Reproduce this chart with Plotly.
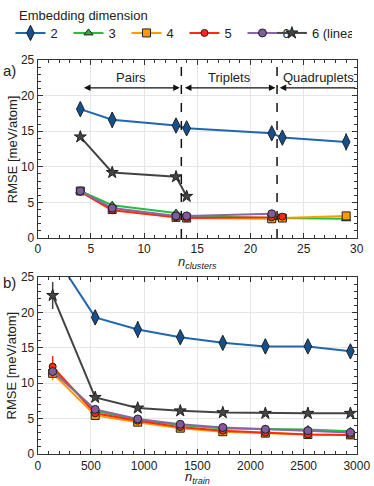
import plotly.graph_objects as go

# panel a: RMSE vs number of clusters
a_x = [4, 7, 13, 14, 22, 23, 29]
a_blue = [18.1, 16.6, 15.8, 15.4, 14.7, 14.1, 13.5]
a_blue_err = [1.0, 1.1, 0.9, 0.9, 0.9, 0.9, 1.2]
a_green = [6.6, 4.6, 3.5, 3.1, 2.8, 2.8, 2.7]
a_orange = [6.6, 4.0, 2.9, 2.8, 2.7, 2.8, 3.1]
a_red = [6.5, 3.9, 2.9, 2.8, 2.9, 3.0, None]
a_purple = [6.6, 4.2, 3.1, 3.1, 3.4, None, None]
a_star = [14.2, 9.2, 8.6, 5.85, None, None, None]

# panel b: RMSE vs training set size
b_x = [140, 540, 940, 1340, 1740, 2140, 2540, 2940]
b_blue = [28.5, 19.3, 17.6, 16.5, 15.7, 15.2, 15.2, 14.5]
b_blue_err = [1.2, 1.0, 1.2, 0.8, 0.7, 1.0, 0.9, 0.7]
b_green = [12.0, 6.1, 4.8, 4.1, 3.6, 3.5, 3.45, 3.2]
b_orange = [11.4, 5.45, 4.5, 3.65, 3.15, 2.95, 2.75, 2.7]
b_red = [12.35, 5.75, 4.7, 3.8, 3.3, 3.0, 2.75, 2.7]
b_red_err = [1.5, 0.2, 0.2, 0.15, 0.15, 0.15, 0.15, 0.15]
b_orange_err = [1.0, 0.2, 0.2, 0.15, 0.15, 0.15, 0.15, 0.15]
b_purple = [11.65, 6.3, 4.95, 4.2, 3.75, 3.5, 3.3, 3.05]
b_star = [22.4, 8.0, 6.5, 6.1, 5.85, 5.75, 5.75, 5.75]
b_star_err = [1.9, 0.2, 0.1, 0.1, 0.1, 0.1, 0.1, 0.1]

series = [
    # name, colour, marker fill, symbol, size, legend
    ("2", "#2166b0", "#14508e", "diamond-tall", 11, "legend"),
    ("3", "#22c040", "#22b040", "triangle-up", 8, "legend"),
    ("4", "#ff9a00", "#ff9a00", "square", 8, "legend"),
    ("5", "#ff2a10", "#ff2a10", "circle", 7, "legend"),
    ("6", "#8a66a8", "#7e5c9e", "circle", 8, "legend"),
    ("6 (linear)", "#444444", "#444444", "star", 9, "legend2"),
]

a_vals = [a_blue, a_green, a_orange, a_red, a_purple, a_star]
a_errs = [a_blue_err, [0.2] * 7, [0.2] * 7, [0.2] * 7, [0.2] * 7, [0.2] * 7]
b_vals = [b_blue, b_green, b_orange, b_red, b_purple, b_star]
b_errs = [b_blue_err, [0.2] * 8, b_orange_err, b_red_err, [0.2] * 8, b_star_err]

fig = go.Figure()

for i, (name, col, fill, sym, size, leg) in enumerate(series):
    for xs, ys, errs, xa, ya, show in [
        (a_x, a_vals[i], a_errs[i], "x", "y", True),
        (b_x, b_vals[i], b_errs[i], "x2", "y2", False),
    ]:
        fig.add_trace(go.Scatter(
            x=xs, y=ys, name=name, legendgroup=name, showlegend=show, legend=leg,
            xaxis=xa, yaxis=ya, mode="lines+markers",
            line=dict(color=col, width=2),
            marker=dict(symbol=sym, size=size, color=fill,
                        line=dict(color="#222222", width=1)),
            error_y=dict(type="data", array=errs, color=col,
                         thickness=1.5, width=0),
            cliponaxis=True,
        ))

font = "Liberation Sans, Arial, sans-serif"
axis_common = dict(
    showline=True, linecolor="#333333", linewidth=1.2, mirror="allticks",
    ticks="inside", ticklen=5, tickcolor="#333333",
    showgrid=True, gridcolor="#e6e6e6", zeroline=False, automargin=False,
    tickfont=dict(size=12, color="#222222"),
)
minor = dict(ticks="inside", ticklen=3, tickcolor="#333333", showgrid=False)
legend_common = dict(orientation="h", y=0.963, yanchor="top",
                     font=dict(size=13), itemwidth=30, bgcolor="rgba(0,0,0,0)")

fig.update_layout(
    width=374, height=486,
    margin=dict(l=0, r=0, t=0, b=0),
    paper_bgcolor="white", plot_bgcolor="white",
    font=dict(family=font, color="#222222"),
    showlegend=True,
    legend=dict(x=0.028, xanchor="left", entrywidth=13, **legend_common),
    legend2=dict(x=0.727, xanchor="left", entrywidth=35, **legend_common),
    xaxis=dict(domain=[0.101, 0.954], anchor="y", range=[0, 30], dtick=5,
               minor=dict(dtick=1, **minor), **axis_common),
    yaxis=dict(domain=[0.5103, 0.8765], anchor="x", range=[0, 25], dtick=5,
               minor=dict(dtick=1, **minor), **axis_common),
    xaxis2=dict(domain=[0.101, 0.954], anchor="y2", range=[0, 3000], dtick=500,
                minor=dict(dtick=100, **minor), **axis_common),
    yaxis2=dict(domain=[0.0658, 0.43], anchor="x2", range=[0, 25], dtick=5,
                minor=dict(dtick=1, **minor), **axis_common),
)

txt = dict(showarrow=False, xref="paper", yref="paper", font=dict(size=13, color="#222222"))
fig.add_annotation(x=0.045, y=0.988, text="Embedding dimension",
                   xanchor="left", yanchor="top", **txt)
# axis titles
fig.add_annotation(x=0.527, y=0.459, text="<i>n</i><sub><i>clusters</i></sub>",
                   xanchor="center", yanchor="middle", **txt)
fig.add_annotation(x=0.527, y=-0.004, text="<i>n</i><sub><i>train</i></sub>",
                   xanchor="center", yanchor="bottom", **txt)
fig.add_annotation(x=0.032, y=0.693, text="RMSE [meV/atom]", textangle=-90,
                   xanchor="center", yanchor="middle", **txt)
fig.add_annotation(x=0.032, y=0.248, text="RMSE [meV/atom]", textangle=-90,
                   xanchor="center", yanchor="middle", **txt)

# dashed separators between cluster types
for xv in [13.5, 22.5]:
    fig.add_shape(type="line", xref="x", yref="y domain", x0=xv, x1=xv, y0=0, y1=1,
                  line=dict(color="#111111", width=1.5, dash="dash"))

# double-headed arrows with group labels
arrow_y = 21.1
groups = [("Pairs", 4.2, 13.35, "end+start"),
          ("Triplets", 13.7, 22.35, "end+start"),
          ("Quadruplets", 30.0, 22.75, "end")]
for label, x0, x1, side in groups:
    fig.add_annotation(x=x1, y=arrow_y, ax=x0, ay=arrow_y, xref="x", yref="y",
                       axref="x", ayref="y", text="", showarrow=True,
                       arrowhead=2, arrowsize=1, arrowwidth=1.3,
                       arrowcolor="#111111", arrowside=side)
    fig.add_annotation(x=(x0 + x1) / 2, y=arrow_y, xref="x", yref="y",
                       text=label, showarrow=False, yanchor="bottom", yshift=1,
                       font=dict(size=13, color="#222222"))

fig.add_annotation(x=0.003, y=0.877, text="a)", xanchor="left", yanchor="top",
                   **dict(txt, font=dict(size=15, color="#222222")))
fig.add_annotation(x=0.003, y=0.44, text="b)", xanchor="left", yanchor="top",
                   **dict(txt, font=dict(size=15, color="#222222")))

fig.write_html("out.html", config={"displayModeBar": False},
               post_script="document.body.style.margin='0';")
